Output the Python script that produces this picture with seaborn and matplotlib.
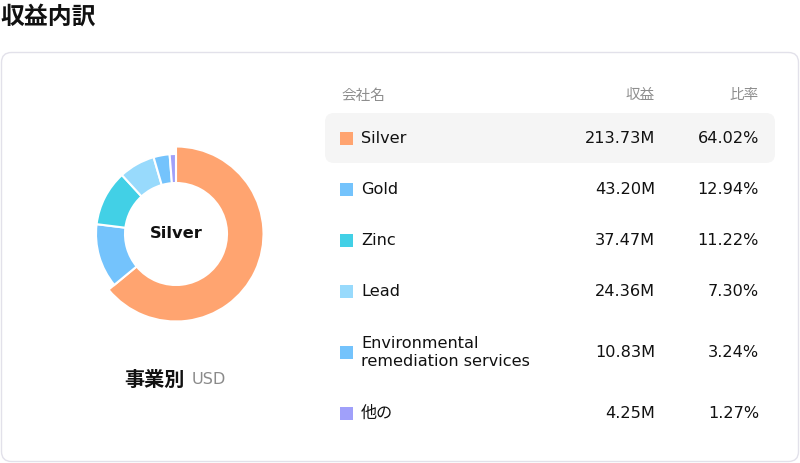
import matplotlib
matplotlib.use("Agg")
import matplotlib.pyplot as plt
from matplotlib.patches import FancyBboxPatch
import pandas as pd
import seaborn as sns

sns.set_theme(style="white")
plt.rcParams["font.family"] = ["DejaVu Sans", "Noto Sans CJK JP"]

# data
names = ["Silver", "Gold", "Zinc", "Lead", "Environmental\nremediation services", "他の"]
revenue = [213.73, 43.20, 37.47, 24.36, 10.83, 4.25]
share = [64.02, 12.94, 11.22, 7.30, 3.24, 1.27]
colors = ["#FFA470", "#74C3FC", "#42D0E6", "#98DAFC", "#74C3FC", "#A0A0FA"]
headers = ["会社名", "収益", "比率"]

W, H = 800, 463
fig = plt.figure(figsize=(W / 100, H / 100), dpi=100)
fig.patch.set_facecolor("white")

# overlay axes in pixel coords
ax = fig.add_axes([0, 0, 1, 1])
ax.set_xlim(0, W)
ax.set_ylim(H, 0)
ax.axis("off")

card = FancyBboxPatch((1.5, 52.5), 797, 409, boxstyle="round,pad=0,rounding_size=10",
                      facecolor="white", edgecolor="#E2E1EA", linewidth=1)
ax.add_patch(card)

ax.text(0, 17, "収益内訳", fontsize=17.2, fontweight="bold", color="#111111",
        ha="left", va="center")

# donut
cx, cy = 176, 234
dax = fig.add_axes([(cx - 100) / W, (H - cy - 100) / H, 200 / W, 200 / H])
wedges, _ = dax.pie(revenue, colors=colors, startangle=90, counterclock=False,
                    radius=0.80, wedgeprops=dict(width=0.29, edgecolor="white", linewidth=1.5))
wedges[0].set_radius(0.875)
wedges[0].set_width(0.365)
dax.set_xlim(-1, 1)
dax.set_ylim(-1, 1)
dax.axis("off")
dax.text(0, 0.01, names[0], ha="center", va="center", fontsize=11.7, fontweight="bold",
         color="#111111")

ax.text(124, 380, "事業別", fontsize=14.5, fontweight="bold", color="#111111",
        ha="left", va="center")
ax.text(192, 380, "USD", fontsize=11.6, color="#8A8A8A", ha="left", va="center")

# table
ax.text(341, 95, headers[0], fontsize=10.5, color="#8E8E8E", ha="left", va="center")
ax.text(655, 95, headers[1], fontsize=10.5, color="#8E8E8E", ha="right", va="center")
ax.text(759, 95, headers[2], fontsize=10.5, color="#8E8E8E", ha="right", va="center")

top = 113
ys = []
for n in names:
    h = 51 + 20 * n.count("\n")
    ys.append(top + h / 2)
    top += h

hl = FancyBboxPatch((325, 113), 450, 50, boxstyle="round,pad=0,rounding_size=9",
                    facecolor="#F5F5F5", edgecolor="none")
ax.add_patch(hl)

df = pd.DataFrame({"name": names, "y": ys, "x": 346.5})
sns.scatterplot(data=df, x="x", y="y", hue="name", palette=dict(zip(names, colors)),
                marker="s", s=80, linewidth=0, legend=False, ax=ax)
ax.set_xlim(0, W)
ax.set_ylim(H, 0)
ax.axis("off")

for n, r, p, y in zip(names, revenue, share, ys):
    ax.text(361, y, n, fontsize=11.6, color="#111111", ha="left", va="center", linespacing=1.2)
    ax.text(655, y, f"{r:.2f}M", fontsize=11.6, color="#111111", ha="right", va="center")
    ax.text(759, y, f"{p:.2f}%", fontsize=11.6, color="#111111", ha="right", va="center")

fig.savefig("out.png", dpi=100)
